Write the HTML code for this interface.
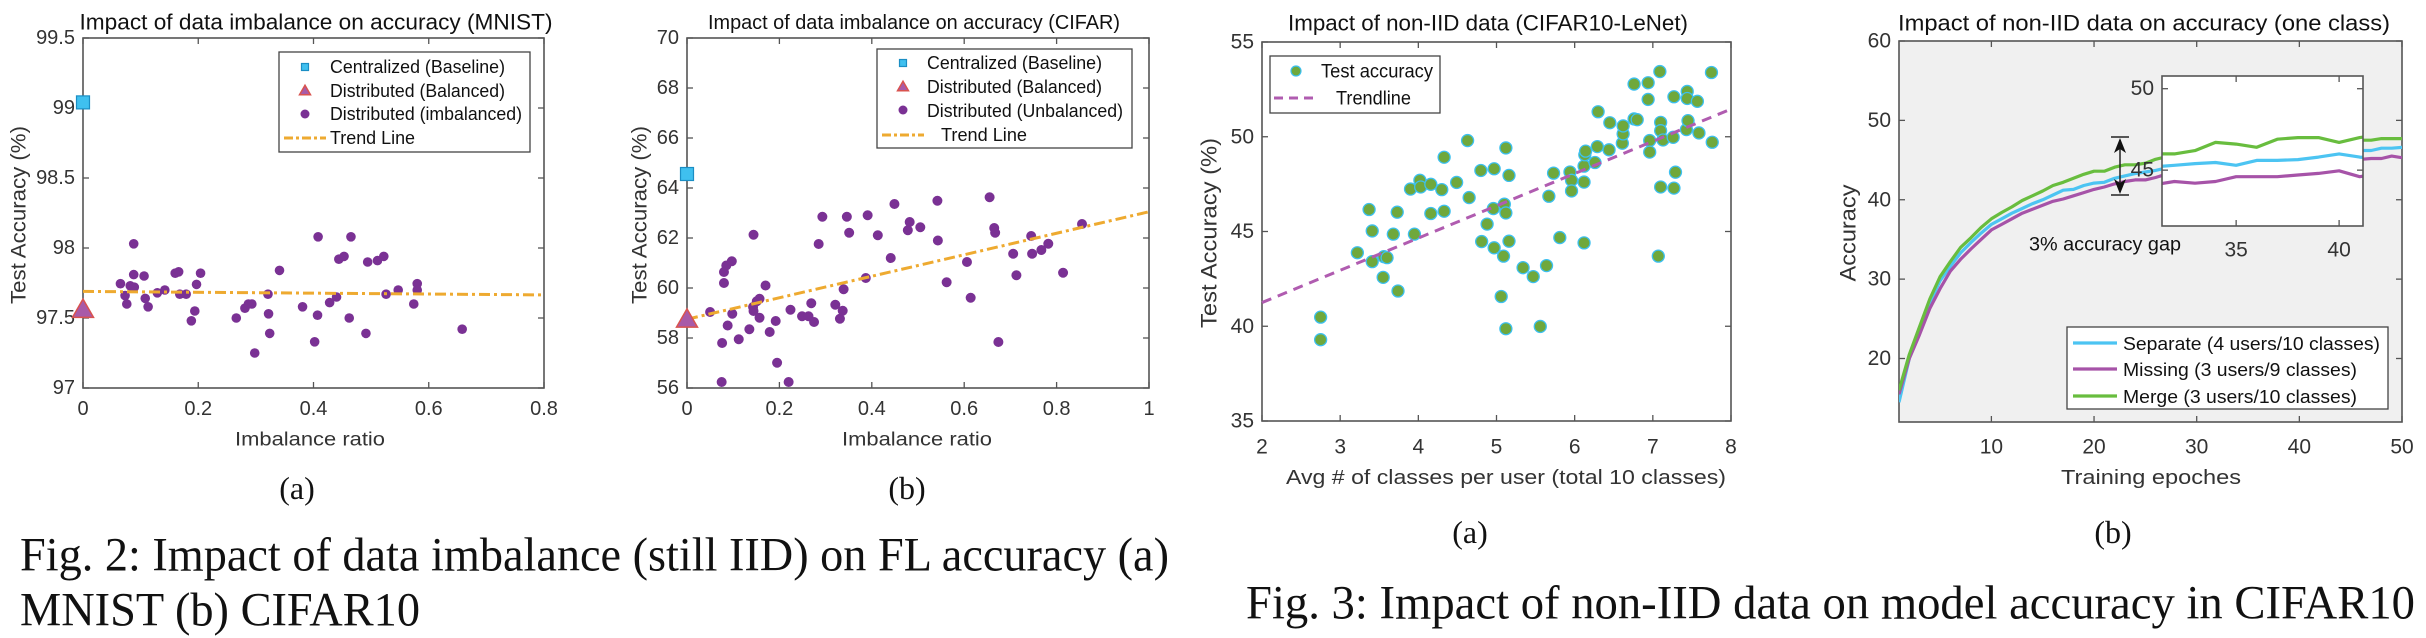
<!DOCTYPE html>
<html><head><meta charset="utf-8"><style>
html,body{margin:0;padding:0;background:#fff;}
svg{display:block;}
</style></head><body>
<svg id="fig" width="2426" height="638" viewBox="0 0 2426 638" xmlns="http://www.w3.org/2000/svg" font-family="'Liberation Sans', sans-serif"></svg>
<script>
// ---------- Chart 1 (MNIST) data ----------
const c1X = [0.065,0.073,0.076,0.082,0.088,0.088,0.089,0.106,0.108,0.113,0.129,0.142,0.160,0.166,0.168,0.179,0.188,0.194,0.197,0.204,0.266,0.281,0.287,0.293,0.298,0.321,0.322,0.324,0.341,0.381,0.402,0.407,0.408,0.428,0.440,0.444,0.453,0.462,0.465,0.491,0.494,0.511,0.522,0.526,0.547,0.574,0.580,0.580,0.658];
const c1Y = [97.745,97.66,97.60,97.73,98.03,97.81,97.72,97.80,97.64,97.58,97.68,97.70,97.82,97.83,97.67,97.67,97.48,97.55,97.74,97.82,97.50,97.57,97.60,97.60,97.25,97.67,97.53,97.39,97.84,97.58,97.33,97.52,98.08,97.61,97.65,97.92,97.94,97.50,98.08,97.39,97.90,97.91,97.94,97.67,97.70,97.60,97.745,97.70,97.42];
const c1Central = [0, 99.04];
const c1Balanced = [0, 97.57];
const c1TrendX = [0, 0.8];
const c1TrendY = [97.69, 97.665];
const c1XTicks = [0,0.2,0.4,0.6,0.8];
const c1XLabels = ['0','0.2','0.4','0.6','0.8'];
const c1YTicks = [97,97.5,98,98.5,99,99.5];
const c1YLabels = ['97','97.5','98','98.5','99','99.5'];
// ---------- Chart 2 (CIFAR) data ----------
const c2X = [0.050,0.076,0.075,0.080,0.080,0.085,0.088,0.097,0.098,0.112,0.135,0.143,0.144,0.144,0.151,0.157,0.157,0.170,0.179,0.192,0.195,0.220,0.224,0.249,0.263,0.269,0.275,0.285,0.293,0.321,0.331,0.337,0.339,0.346,0.351,0.387,0.391,0.413,0.441,0.449,0.478,0.482,0.505,0.542,0.543,0.562,0.606,0.614,0.655,0.665,0.667,0.674,0.706,0.713,0.745,0.747,0.767,0.782,0.814,0.855];
const c2Y = [59.04,57.8,56.24,60.2,60.64,60.9,58.5,61.07,58.97,57.95,58.35,59.24,62.13,59.08,59.47,59.57,58.81,60.1,58.24,58.68,57.01,56.24,59.13,58.87,58.87,59.39,58.64,61.76,62.85,59.33,58.77,59.09,59.95,62.85,62.21,60.4,62.91,62.11,61.2,63.36,62.31,62.64,62.43,63.49,61.9,60.23,61.04,59.61,63.63,62.4,62.21,57.84,61.37,60.51,62.08,61.37,61.52,61.77,60.61,62.56];
const c2Central = [0, 64.56];
const c2Balanced = [0, 58.8];
const c2TrendX = [0, 1];
const c2TrendY = [58.75, 63.05];
const c2XTicks = [0,0.2,0.4,0.6,0.8,1];
const c2XLabels = ['0','0.2','0.4','0.6','0.8','1'];
const c2YTicks = [56,58,60,62,64,66,68,70];
const c2YLabels = ['56','58','60','62','64','66','68','70'];
// ---------- Chart 3 (non-IID LeNet) data ----------
const c3X = [2.75,2.75,3.22,3.37,3.41,3.41,3.55,3.56,3.60,3.68,3.73,3.74,3.90,3.95,4.02,4.03,4.16,4.16,4.30,4.33,4.33,4.49,4.63,4.65,4.80,4.81,4.88,4.96,4.97,4.97,5.09,5.06,5.10,5.12,5.12,5.12,5.16,5.16,5.34,5.47,5.56,5.64,5.67,5.73,5.81,5.94,5.96,5.96,6.12,6.12,6.12,6.13,6.14,6.26,6.29,6.30,6.44,6.45,6.61,6.62,6.62,6.76,6.80,6.76,6.94,6.96,6.96,6.94,7.07,7.09,7.10,7.10,7.13,7.10,7.26,7.27,7.27,7.29,7.43,7.44,7.44,7.45,7.57,7.59,7.75,7.76];
const c3Y = [40.48,39.29,43.88,46.16,45.03,43.41,42.58,43.67,43.62,44.86,46.02,41.86,47.24,44.86,47.70,47.35,47.49,45.95,47.21,48.92,46.07,47.59,49.80,46.79,48.22,44.47,45.39,46.21,48.31,44.14,43.70,41.57,46.44,45.98,39.87,49.41,47.96,44.49,43.09,42.62,39.99,43.20,46.86,48.08,44.68,48.14,47.70,47.14,44.40,47.61,48.45,49.05,49.24,48.64,49.48,51.32,49.31,50.74,49.66,50.15,50.57,50.94,50.90,52.78,51.97,49.80,49.19,52.85,43.70,53.44,50.76,50.32,49.83,47.35,49.97,52.11,47.29,48.13,50.38,52.39,52.02,50.85,51.87,50.20,53.39,49.71];
const c3TrendX = [2, 8];
const c3TrendY = [41.25, 51.46];
const c3XTicks = [2,3,4,5,6,7,8];
const c3XLabels = ['2','3','4','5','6','7','8'];
const c3YTicks = [35,40,45,50,55];
const c3YLabels = ['35','40','45','50','55'];
// ---------- Chart 4 (one class) data ----------
const c4Epochs = [1,2,3,4,5,6,7,8,9,10,11,12,13,14,15,16,17,18,19,20,21,22,23,24,25,26,27,28,29,30,31,32,33,34,35,36,37,38,39,40,41,42,43,44,45,46,47,48,49,50];
const c4Separate = [14.5,20,23.5,27,29.8,31.6,33.3,34.6,35.8,36.9,37.6,38.3,38.9,39.5,40.0,40.6,41.2,41.3,41.8,42.1,42.2,42.7,43.0,43.3,43.5,43.7,44.0,44.3,44.6,44.9,45.2,45.3,45.4,45.47,45.3,45.6,45.6,45.65,45.8,46.0,45.8,45.7,45.8,45.9,45.8,46.2,46.2,46.5,46.5,46.6];
const c4Missing = [15.5,20,23,26.3,28.8,31.0,32.5,33.8,35.0,36.2,36.9,37.6,38.3,38.8,39.3,39.8,40.1,40.5,40.9,41.3,41.6,42.0,42.3,42.5,42.5,42.8,43.2,43.5,43.8,44.0,44.1,44.3,44.2,44.3,44.6,44.6,44.6,44.7,44.8,44.96,44.6,44.8,44.9,45.0,45.1,45.1,45.2,45.2,45.5,45.3];
const c4Merge = [16,20.5,24,27.5,30.3,32.2,34,35.2,36.5,37.6,38.4,39.1,39.9,40.5,41.1,41.8,42.2,42.7,43.2,43.6,43.6,44.1,44.4,44.4,44.6,45.1,45.4,45.6,45.8,45.9,46.0,46.0,46.2,46.7,46.6,46.4,46.9,47.0,47.0,46.7,47.0,47.2,47.3,47.4,47.4,47.5,47.5,47.7,47.7,47.7];
const c4XTicks = [10,20,30,40,50];
const c4XLabels = ['10','20','30','40','50'];
const c4YTicks = [20,30,40,50,60];
const c4YLabels = ['20','30','40','50','60'];
const insetXTicks = [35,40];
const insetXLabels = ['35','40'];
const insetYTicks = [45,50];
const insetYLabels = ['45','50'];

const NS = 'http://www.w3.org/2000/svg';
const svg = document.getElementById('fig');
function mk(tag, attrs, name, parent) {
  const e = document.createElementNS(NS, tag);
  for (const k in attrs) e.setAttribute(k, attrs[k]);
  
  
  (parent || svg).appendChild(e);
  return e;
}
function tx(x, y, s, size, name, opts) {
  opts = opts || {};
  const a = {x: x, y: y, 'font-size': size, fill: opts.fill || '#262626', 'text-anchor': opts.anchor || 'middle', 'dominant-baseline': 'central'};
  if (opts.family) a['font-family'] = opts.family;
  if (opts.len) { a.textLength = opts.len; a.lengthAdjust = 'spacingAndGlyphs'; }
  if (opts.rot) a.transform = 'rotate(-90 ' + x + ' ' + y + ')';
  const t = mk('text', a, name, opts.parent);
  t.textContent = s;
  return t;
}
function lin(d0, d1, r0, r1) { return v => r0 + (v - d0) * (r1 - r0) / (d1 - d0); }

function axes(p, name) {
  const g = mk('g', {}, name + '-axes');
  if (p.bg) mk('rect', {x: p.x0, y: p.y1, width: p.x1 - p.x0, height: p.y0 - p.y1, fill: p.bg}, name + '-plot-background', g);
  const tl = 6;
  p.xt.forEach((v, i) => {
    const X = p.sx(v);
    mk('line', {x1: X, x2: X, y1: p.y0, y2: p.y0 - tl, stroke: '#555', 'stroke-width': 1.3}, name + '-x-tick', g);
    mk('line', {x1: X, x2: X, y1: p.y1, y2: p.y1 + tl, stroke: '#555', 'stroke-width': 1.3}, name + '-x-tick-top', g);
    tx(X, p.xly, p.xl[i], p.fs, name + '-x-tick-label', {parent: g, fill: '#333'});
  });
  p.yt.forEach((v, i) => {
    const Y = p.sy(v);
    mk('line', {x1: p.x0, x2: p.x0 + tl, y1: Y, y2: Y, stroke: '#555', 'stroke-width': 1.3}, name + '-y-tick', g);
    mk('line', {x1: p.x1, x2: p.x1 - tl, y1: Y, y2: Y, stroke: '#555', 'stroke-width': 1.3}, name + '-y-tick-right', g);
    tx(p.x0 - 8, Y, p.yl[i], p.fs, name + '-y-tick-label', {parent: g, anchor: 'end', fill: '#333'});
  });
  mk('rect', {x: p.x0, y: p.y1, width: p.x1 - p.x0, height: p.y0 - p.y1, fill: 'none', stroke: '#555', 'stroke-width': 1.6}, name + '-plot-frame', g);
  return g;
}
function tri(cx, cy, w, fill, stroke, name, parent) {
  const h = w * 0.87;
  return mk('polygon', {points: (cx - w / 2) + ',' + (cy + h / 2) + ' ' + (cx + w / 2) + ',' + (cy + h / 2) + ' ' + cx + ',' + (cy - h / 2), fill: fill, stroke: stroke, 'stroke-width': 1.5}, name, parent);
}
function sq(cx, cy, s, name, parent) {
  return mk('rect', {x: cx - s / 2, y: cy - s / 2, width: s, height: s, fill: '#3fc0ef', stroke: '#1b8ec4', 'stroke-width': 1.2}, name, parent);
}
const ORANGE = '#eeaa30', PURPLE = '#7a3194';

// ===== Chart 1 =====
(function () {
  const sx = lin(0, 0.8, 83, 544), sy = lin(97, 99.5, 388, 38);
  axes({x0: 83, x1: 544, y0: 388, y1: 38, sx: sx, sy: sy, xt: c1XTicks, xl: c1XLabels, yt: c1YTicks, yl: c1YLabels, xly: 409, fs: 20}, 'mnist');
  tx(316, 22, 'Impact of data imbalance on accuracy (MNIST)', 22, 'mnist-title', {len: 473, fill: '#111'});
  tx(19, 215, 'Test Accuracy (%)', 21, 'mnist-y-axis-title', {rot: true, len: 178, fill: '#333'});
  tx(310, 440, 'Imbalance ratio', 19, 'mnist-x-axis-title', {len: 150, fill: '#333'});
  const g = mk('g', {}, 'mnist-points');
  c1X.forEach((v, i) => {
    mk('circle', {cx: sx(v), cy: sy(c1Y[i]), r: 4.8, fill: PURPLE}, 'mnist-imbalanced-point', g);
  });
  mk('line', {x1: sx(c1TrendX[0]), y1: sy(c1TrendY[0]), x2: sx(c1TrendX[1]), y2: sy(c1TrendY[1]), stroke: ORANGE, 'stroke-width': 3, 'stroke-dasharray': '11,4,3,4'}, 'mnist-trend-line');
  sq(sx(c1Central[0]), sy(c1Central[1]), 13, 'mnist-centralized-point');
  tri(sx(c1Balanced[0]), sy(c1Balanced[1]), 21, '#a85aa8', '#d9534f', 'mnist-balanced-point');
  const lg = mk('g', {}, 'mnist-legend');
  mk('rect', {x: 279, y: 52, width: 251, height: 100, fill: '#fff', stroke: '#444', 'stroke-width': 1.3}, 'mnist-legend-box', lg);
  sq(305, 67, 7, 'mnist-legend-centralized-marker', lg);
  tri(305, 90, 11, '#a85aa8', '#d9534f', 'mnist-legend-balanced-marker', lg);
  mk('circle', {cx: 305, cy: 114, r: 4.5, fill: PURPLE}, 'mnist-legend-imbalanced-marker', lg);
  mk('line', {x1: 284, x2: 326, y1: 138, y2: 138, stroke: ORANGE, 'stroke-width': 3, 'stroke-dasharray': '9,3,3,3'}, 'mnist-legend-trend-sample', lg);
  tx(330, 67, 'Centralized (Baseline)', 18, 'mnist-legend-centralized-label', {anchor: 'start', parent: lg, len: 175, fill: '#111'});
  tx(330, 91, 'Distributed (Balanced)', 18, 'mnist-legend-balanced-label', {anchor: 'start', parent: lg, len: 175, fill: '#111'});
  tx(330, 114, 'Distributed (imbalanced)', 18, 'mnist-legend-imbalanced-label', {anchor: 'start', parent: lg, len: 192, fill: '#111'});
  tx(330, 138, 'Trend Line', 18, 'mnist-legend-trend-label', {anchor: 'start', parent: lg, len: 85, fill: '#111'});
  tx(297, 488, '(a)', 32, 'fig2-subcaption-a', {family: "'Liberation Serif', serif", fill: '#111'});
})();

// ===== Chart 2 =====
(function () {
  const sx = lin(0, 1, 687, 1149), sy = lin(56, 70, 388, 38);
  axes({x0: 687, x1: 1149, y0: 388, y1: 38, sx: sx, sy: sy, xt: c2XTicks, xl: c2XLabels, yt: c2YTicks, yl: c2YLabels, xly: 409, fs: 20}, 'cifar');
  tx(914, 23, 'Impact of data imbalance on accuracy (CIFAR)', 20, 'cifar-title', {len: 412, fill: '#111'});
  tx(640, 215, 'Test Accuracy (%)', 21, 'cifar-y-axis-title', {rot: true, len: 178, fill: '#333'});
  tx(917, 440, 'Imbalance ratio', 19, 'cifar-x-axis-title', {len: 150, fill: '#333'});
  const g = mk('g', {}, 'cifar-points');
  c2X.forEach((v, i) => {
    mk('circle', {cx: sx(v), cy: sy(c2Y[i]), r: 5, fill: PURPLE}, 'cifar-unbalanced-point', g);
  });
  mk('line', {x1: sx(c2TrendX[0]), y1: sy(c2TrendY[0]), x2: sx(c2TrendX[1]), y2: sy(c2TrendY[1]), stroke: ORANGE, 'stroke-width': 3, 'stroke-dasharray': '11,4,3,4'}, 'cifar-trend-line');
  sq(sx(c2Central[0]), sy(c2Central[1]), 13, 'cifar-centralized-point');
  tri(sx(c2Balanced[0]), sy(c2Balanced[1]), 21, '#a85aa8', '#d9534f', 'cifar-balanced-point');
  const lg = mk('g', {}, 'cifar-legend');
  mk('rect', {x: 877, y: 49, width: 255, height: 99, fill: '#fff', stroke: '#444', 'stroke-width': 1.3}, 'cifar-legend-box', lg);
  sq(903, 63, 7, 'cifar-legend-centralized-marker', lg);
  tri(903, 86, 11, '#a85aa8', '#d9534f', 'cifar-legend-balanced-marker', lg);
  mk('circle', {cx: 903, cy: 110, r: 4.5, fill: PURPLE}, 'cifar-legend-unbalanced-marker', lg);
  mk('line', {x1: 882, x2: 924, y1: 135, y2: 135, stroke: ORANGE, 'stroke-width': 3, 'stroke-dasharray': '9,3,3,3'}, 'cifar-legend-trend-sample', lg);
  tx(927, 63, 'Centralized (Baseline)', 18, 'cifar-legend-centralized-label', {anchor: 'start', parent: lg, len: 175, fill: '#111'});
  tx(927, 87, 'Distributed (Balanced)', 18, 'cifar-legend-balanced-label', {anchor: 'start', parent: lg, len: 175, fill: '#111'});
  tx(927, 111, 'Distributed (Unbalanced)', 18, 'cifar-legend-unbalanced-label', {anchor: 'start', parent: lg, len: 196, fill: '#111'});
  tx(941, 135, 'Trend Line', 18, 'cifar-legend-trend-label', {anchor: 'start', parent: lg, len: 86, fill: '#111'});
  tx(907, 488, '(b)', 32, 'fig2-subcaption-b', {family: "'Liberation Serif', serif", fill: '#111'});
})();

// ===== Chart 3 =====
(function () {
  const sx = lin(2, 8, 1262, 1731), sy = lin(35, 55, 421, 42);
  axes({x0: 1262, x1: 1731, y0: 421, y1: 42, sx: sx, sy: sy, xt: c3XTicks, xl: c3XLabels, yt: c3YTicks, yl: c3YLabels, xly: 447, fs: 21}, 'noniid');
  tx(1488, 23, 'Impact of non-IID data (CIFAR10-LeNet)', 22, 'noniid-title', {len: 400, fill: '#111'});
  tx(1209, 233, 'Test Accuracy (%)', 22, 'noniid-y-axis-title', {rot: true, len: 190, fill: '#333'});
  tx(1506, 478, 'Avg # of classes per user (total 10 classes)', 20, 'noniid-x-axis-title', {len: 440, fill: '#333'});
  const g = mk('g', {}, 'noniid-points');
  c3X.forEach((v, i) => {
    mk('circle', {cx: sx(v), cy: sy(c3Y[i]), r: 6, fill: '#6fa83c', stroke: '#3cc0f0', 'stroke-width': 1.3}, 'noniid-accuracy-point', g);
  });
  mk('line', {x1: sx(c3TrendX[0]), y1: sy(c3TrendY[0]), x2: sx(c3TrendX[1]), y2: sy(c3TrendY[1]), stroke: '#b05cb0', 'stroke-width': 3, 'stroke-dasharray': '10,7'}, 'noniid-trendline');
  const lg = mk('g', {}, 'noniid-legend');
  mk('rect', {x: 1270, y: 56, width: 170, height: 57, fill: '#fff', stroke: '#444', 'stroke-width': 1.3}, 'noniid-legend-box', lg);
  mk('circle', {cx: 1296, cy: 71, r: 5, fill: '#6fa83c', stroke: '#3cc0f0', 'stroke-width': 1.2}, 'noniid-legend-accuracy-marker', lg);
  mk('line', {x1: 1274, x2: 1318, y1: 98, y2: 98, stroke: '#b05cb0', 'stroke-width': 3, 'stroke-dasharray': '9,6'}, 'noniid-legend-trend-sample', lg);
  tx(1321, 72, 'Test accuracy', 19, 'noniid-legend-accuracy-label', {anchor: 'start', parent: lg, len: 112, fill: '#111'});
  tx(1336, 99, 'Trendline', 19, 'noniid-legend-trend-label', {anchor: 'start', parent: lg, len: 75, fill: '#111'});
  tx(1470, 532, '(a)', 32, 'fig3-subcaption-a', {family: "'Liberation Serif', serif", fill: '#111'});
})();

// ===== Chart 4 =====
(function () {
  const sx = lin(1, 50, 1899, 2402), sy = lin(12, 60, 422, 41);
  axes({x0: 1899, x1: 2402, y0: 422, y1: 41, sx: sx, sy: sy, xt: c4XTicks, xl: c4XLabels, yt: c4YTicks, yl: c4YLabels, xly: 447, fs: 21, bg: '#f0f0f0'}, 'oneclass');
  tx(2144, 23, 'Impact of non-IID data on accuracy (one class)', 22, 'oneclass-title', {len: 492, fill: '#111'});
  tx(1848, 233, 'Accuracy', 22, 'oneclass-y-axis-title', {rot: true, len: 97, fill: '#333'});
  tx(2151, 478, 'Training epoches', 20, 'oneclass-x-axis-title', {len: 180, fill: '#333'});
  const defs = mk('defs', {}, 'defs');
  const cp = mk('clipPath', {id: 'c4clip'}, 'oneclass-clip', defs);
  mk('rect', {x: 1899, y: 41, width: 503, height: 381}, 'oneclass-clip-rect', cp);
  const cp2 = mk('clipPath', {id: 'insetclip'}, 'inset-clip', defs);
  mk('rect', {x: 2162, y: 76, width: 201, height: 150}, 'inset-clip-rect', cp2);
  const series = [[c4Separate, '#4cc4f2', 'separate'], [c4Missing, '#a653a8', 'missing'], [c4Merge, '#68bd3e', 'merge']];
  const g = mk('g', {'clip-path': 'url(#c4clip)'}, 'oneclass-lines');
  series.forEach(s => {
    const d = c4Epochs.map((e, i) => (i ? 'L' : 'M') + sx(e).toFixed(1) + ',' + sy(s[0][i]).toFixed(1)).join('');
    mk('path', {d: d, fill: 'none', stroke: s[1], 'stroke-width': 3.2, 'stroke-linejoin': 'round'}, 'oneclass-line-' + s[2], g);
  });
  const ix = lin(31.4, 41.16, 2162, 2363), iy = lin(41.57, 50.78, 226, 76);
  mk('rect', {x: 2162, y: 76, width: 201, height: 150, fill: '#fff'}, 'inset-background');
  const ig = mk('g', {'clip-path': 'url(#insetclip)'}, 'inset-lines');
  series.forEach(s => {
    const d = c4Epochs.map((e, i) => (i ? 'L' : 'M') + ix(e).toFixed(1) + ',' + iy(s[0][i]).toFixed(1)).join('');
    mk('path', {d: d, fill: 'none', stroke: s[1], 'stroke-width': 3.2, 'stroke-linejoin': 'round'}, 'inset-line-' + s[2], ig);
  });
  axes({x0: 2162, x1: 2363, y0: 226, y1: 76, sx: ix, sy: iy, xt: insetXTicks, xl: insetXLabels, yt: insetYTicks, yl: insetYLabels, xly: 250, fs: 21}, 'inset');
  const ag = mk('g', {}, 'gap-arrow');
  mk('line', {x1: 2120, x2: 2120, y1: 140, y2: 192, stroke: '#222', 'stroke-width': 1.5}, 'gap-arrow-shaft', ag);
  mk('line', {x1: 2111, x2: 2129, y1: 137, y2: 137, stroke: '#222', 'stroke-width': 1.5}, 'gap-arrow-top-cap', ag);
  mk('line', {x1: 2111, x2: 2129, y1: 195, y2: 195, stroke: '#222', 'stroke-width': 1.5}, 'gap-arrow-bottom-cap', ag);
  mk('polygon', {points: '2120,138 2114,153 2120,149 2126,153', fill: '#111'}, 'gap-arrow-head-up', ag);
  mk('polygon', {points: '2120,194 2114,179 2120,183 2126,179', fill: '#111'}, 'gap-arrow-head-down', ag);
  tx(2105, 245, '3% accuracy gap', 19, 'gap-annotation', {len: 152, fill: '#111'});
  const lg = mk('g', {}, 'oneclass-legend');
  mk('rect', {x: 2067, y: 327, width: 321, height: 82, fill: '#fff', stroke: '#444', 'stroke-width': 1.3}, 'oneclass-legend-box', lg);
  const names = ['Separate (4 users/10 classes)', 'Missing (3 users/9 classes)', 'Merge (3 users/10 classes)'];
  const lens = [257, 234, 234];
  [343, 369, 396].forEach((y, i) => {
    mk('line', {x1: 2073, x2: 2117, y1: y, y2: y, stroke: series[i][1], 'stroke-width': 3.2}, 'oneclass-legend-sample-' + series[i][2], lg);
    tx(2123, y + 1, names[i], 18, 'oneclass-legend-label-' + series[i][2], {anchor: 'start', parent: lg, len: lens[i], fill: '#111'});
  });
  tx(2113, 532, '(b)', 32, 'fig3-subcaption-b', {family: "'Liberation Serif', serif", fill: '#111'});
})();

// ===== Figure captions =====
tx(20, 555, 'Fig. 2: Impact of data imbalance (still IID) on FL accuracy (a)', 48, 'fig2-caption-line1', {anchor: 'start', family: "'Liberation Serif', serif", len: 1149, fill: '#111'});
tx(20, 610, 'MNIST (b) CIFAR10', 48, 'fig2-caption-line2', {anchor: 'start', family: "'Liberation Serif', serif", len: 400, fill: '#111'});
tx(1246, 603, 'Fig. 3: Impact of non-IID data on model accuracy in CIFAR10', 48, 'fig3-caption', {anchor: 'start', family: "'Liberation Serif', serif", len: 1169, fill: '#111'});
</script>
</body></html>
